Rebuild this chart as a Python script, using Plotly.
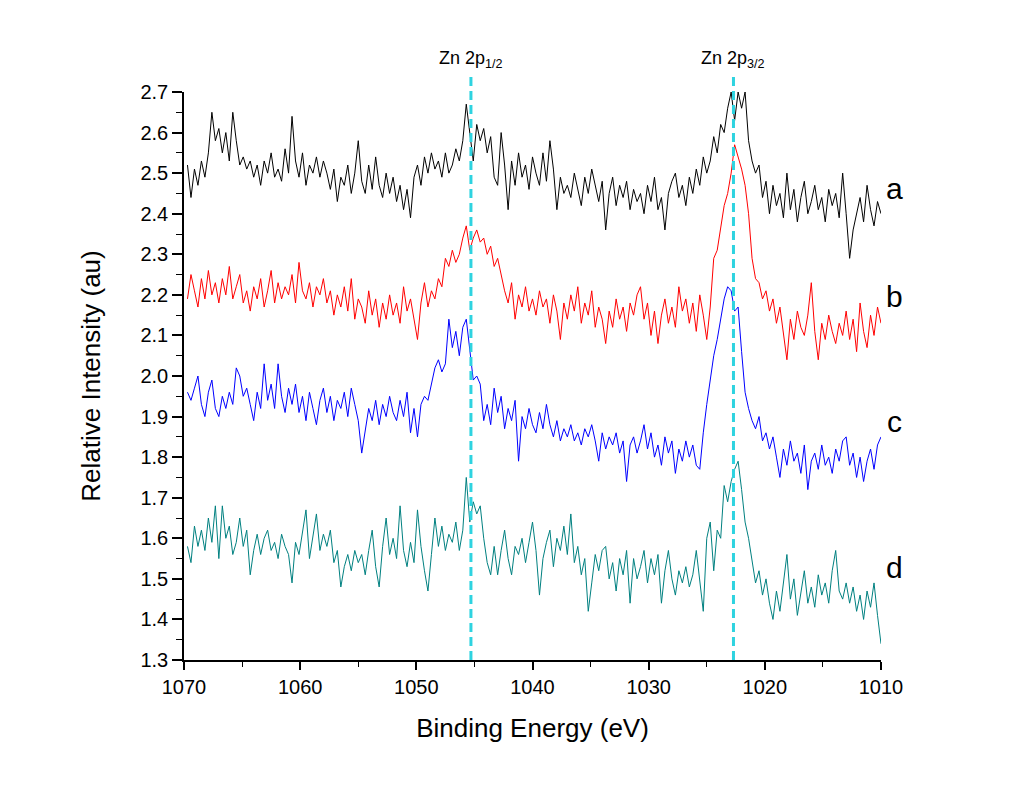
import numpy as np
import plotly.graph_objects as go

# Binding-energy sampling grid (eV), 0.3 eV steps from 1069.7 down to 1010.0
energy = np.round(1069.7 - 0.3 * np.arange(200), 1)

# a (black)
series_a = [
    2.52, 2.44, 2.51, 2.47, 2.53, 2.49, 2.55, 2.65, 2.58, 2.61,
    2.55, 2.60, 2.53, 2.65, 2.58, 2.52, 2.54, 2.51, 2.53, 2.49,
    2.52, 2.47, 2.53, 2.50, 2.55, 2.49, 2.51, 2.48, 2.56, 2.50,
    2.64, 2.53, 2.49, 2.55, 2.47, 2.52, 2.50, 2.54, 2.49, 2.53,
    2.50, 2.46, 2.51, 2.43, 2.49, 2.47, 2.52, 2.45, 2.50, 2.58,
    2.48, 2.45, 2.52, 2.46, 2.54, 2.47, 2.44, 2.50, 2.45, 2.49,
    2.43, 2.47, 2.41, 2.46, 2.39, 2.49, 2.52, 2.47, 2.54, 2.50,
    2.55, 2.51, 2.53, 2.49, 2.55, 2.50, 2.52, 2.56, 2.53, 2.58,
    2.67, 2.60, 2.53, 2.62, 2.58, 2.61, 2.55, 2.59, 2.49, 2.47,
    2.60, 2.52, 2.41, 2.53, 2.47, 2.55, 2.49, 2.52, 2.46, 2.54,
    2.50, 2.47, 2.55, 2.48, 2.58, 2.51, 2.41, 2.49, 2.45, 2.47,
    2.44, 2.50, 2.46, 2.42, 2.49, 2.45, 2.51, 2.47, 2.43, 2.48,
    2.36, 2.45, 2.49, 2.42, 2.47, 2.44, 2.48, 2.41, 2.46, 2.43,
    2.45, 2.40, 2.47, 2.43, 2.49, 2.41, 2.44, 2.36, 2.45, 2.48,
    2.50, 2.44, 2.47, 2.42, 2.49, 2.45, 2.51, 2.47, 2.54, 2.50,
    2.53, 2.59, 2.55, 2.62, 2.60, 2.66, 2.70, 2.63, 2.70, 2.66,
    2.70, 2.58, 2.53, 2.50, 2.52, 2.44, 2.48, 2.40, 2.47, 2.42,
    2.45, 2.39, 2.50, 2.41, 2.46, 2.38, 2.44, 2.48, 2.40, 2.43,
    2.47, 2.41, 2.44, 2.38, 2.46, 2.42, 2.45, 2.39, 2.50, 2.40,
    2.29, 2.36, 2.40, 2.44, 2.38, 2.47, 2.41, 2.37, 2.43, 2.40,
]

# b (red)
series_b = [
    2.19, 2.25, 2.21, 2.17, 2.24, 2.19, 2.26, 2.20, 2.23, 2.18,
    2.24, 2.20, 2.27, 2.19, 2.22, 2.25, 2.18, 2.21, 2.16, 2.22,
    2.19, 2.24, 2.17, 2.21, 2.26, 2.18, 2.23, 2.19, 2.22, 2.20,
    2.25, 2.18, 2.28, 2.21, 2.19, 2.23, 2.17, 2.22, 2.20, 2.24,
    2.18, 2.21, 2.15, 2.20, 2.17, 2.22, 2.16, 2.24, 2.14, 2.19,
    2.17, 2.13, 2.21, 2.15, 2.19, 2.12, 2.18, 2.14, 2.20, 2.15,
    2.18, 2.13, 2.22, 2.16, 2.19, 2.14, 2.09, 2.18, 2.23, 2.17,
    2.21, 2.19, 2.24, 2.22, 2.29, 2.27, 2.31, 2.28, 2.30, 2.34,
    2.37, 2.31, 2.34, 2.36, 2.33, 2.34, 2.30, 2.32, 2.27, 2.29,
    2.25, 2.21, 2.18, 2.23, 2.14, 2.20, 2.17, 2.22, 2.16, 2.19,
    2.15, 2.21, 2.17, 2.19, 2.13, 2.20, 2.16, 2.09, 2.18, 2.14,
    2.20, 2.16, 2.22, 2.13, 2.18, 2.15, 2.21, 2.12, 2.17, 2.14,
    2.08, 2.16, 2.12, 2.19, 2.14, 2.17, 2.11, 2.18, 2.15, 2.20,
    2.22, 2.14, 2.18, 2.10, 2.16, 2.08, 2.15, 2.19, 2.13, 2.17,
    2.12, 2.22, 2.16, 2.19, 2.13, 2.18, 2.11, 2.20, 2.15, 2.09,
    2.17, 2.29, 2.31, 2.37, 2.42, 2.45, 2.50, 2.57, 2.54, 2.51,
    2.47, 2.40, 2.29, 2.24, 2.23, 2.19, 2.21, 2.16, 2.19, 2.13,
    2.17, 2.11, 2.04, 2.14, 2.09, 2.16, 2.12, 2.10, 2.15, 2.23,
    2.11, 2.04, 2.13, 2.09, 2.15, 2.11, 2.08, 2.13, 2.10, 2.16,
    2.09, 2.14, 2.06, 2.18, 2.11, 2.07, 2.15, 2.10, 2.17, 2.13,
]

# c (blue)
series_c = [
    1.96, 1.94, 1.97, 2.00, 1.93, 1.90, 1.96, 1.99, 1.92, 1.90,
    1.95, 1.92, 1.96, 1.93, 2.02, 2.00, 1.95, 1.97, 1.93, 1.89,
    1.96, 1.92, 2.03, 1.94, 1.98, 1.92, 2.03, 1.95, 1.91, 1.97,
    1.93, 1.98, 1.91, 1.95, 1.89, 1.96, 1.92, 1.88, 1.94, 1.97,
    1.91, 1.95, 1.89, 1.94, 1.92, 1.96, 1.90, 1.97, 1.93, 1.89,
    1.81, 1.87, 1.92, 1.89, 1.94, 1.88, 1.93, 1.90, 1.95, 1.91,
    1.89, 1.94, 1.90, 1.96, 1.86, 1.92, 1.85, 1.93, 1.95, 1.94,
    1.98, 2.02, 2.04, 2.01, 2.03, 2.14, 2.07, 2.11, 2.05, 2.12,
    2.14, 2.06, 1.99, 2.00, 1.98, 1.89, 1.93, 1.88, 1.97, 1.91,
    1.95, 1.87, 1.92, 1.89, 1.94, 1.79, 1.90, 1.87, 1.92, 1.88,
    1.86, 1.91, 1.87, 1.93, 1.88, 1.85, 1.89, 1.84, 1.87, 1.85,
    1.88, 1.84, 1.86, 1.83, 1.87, 1.85, 1.88, 1.84, 1.79, 1.86,
    1.82, 1.85, 1.83, 1.86, 1.81, 1.84, 1.74, 1.83, 1.85, 1.81,
    1.84, 1.88, 1.82, 1.86, 1.80, 1.83, 1.78, 1.85, 1.81, 1.84,
    1.76, 1.82, 1.79, 1.84, 1.80, 1.83, 1.78, 1.77, 1.86, 1.93,
    1.99, 2.05, 2.09, 2.14, 2.19, 2.22, 2.21, 2.16, 2.17, 2.06,
    1.96, 1.92, 1.89, 1.87, 1.90, 1.84, 1.86, 1.82, 1.85, 1.80,
    1.75, 1.82, 1.78, 1.84, 1.79, 1.81, 1.76, 1.83, 1.72, 1.79,
    1.81, 1.77, 1.83, 1.78, 1.80, 1.76, 1.82, 1.79, 1.84, 1.85,
    1.78, 1.81, 1.75, 1.80, 1.74, 1.79, 1.82, 1.77, 1.83, 1.85,
]

# d (teal)
series_d = [
    1.58, 1.54, 1.63, 1.58, 1.62, 1.57, 1.65, 1.59, 1.68, 1.55,
    1.68, 1.60, 1.63, 1.56, 1.59, 1.65, 1.58, 1.62, 1.51, 1.57,
    1.61, 1.56, 1.60, 1.62, 1.57, 1.59, 1.55, 1.61, 1.58, 1.56,
    1.49, 1.59, 1.56, 1.61, 1.67, 1.55, 1.60, 1.66, 1.57, 1.61,
    1.58, 1.62, 1.54, 1.57, 1.48, 1.53, 1.56, 1.52, 1.57, 1.54,
    1.56, 1.51, 1.57, 1.62, 1.53, 1.48, 1.58, 1.65, 1.56, 1.60,
    1.55, 1.68, 1.57, 1.53, 1.59, 1.54, 1.67, 1.58, 1.52, 1.47,
    1.56, 1.65, 1.58, 1.63, 1.57, 1.61, 1.59, 1.64, 1.57, 1.62,
    1.75, 1.64, 1.69, 1.66, 1.68, 1.60, 1.54, 1.51, 1.58, 1.51,
    1.57, 1.62, 1.55, 1.51, 1.58, 1.56, 1.60, 1.54, 1.59, 1.64,
    1.57, 1.46, 1.55, 1.59, 1.62, 1.53, 1.60, 1.57, 1.63, 1.56,
    1.66, 1.54, 1.58, 1.51, 1.55, 1.42, 1.49, 1.56, 1.52, 1.57,
    1.58, 1.50, 1.54, 1.47, 1.55, 1.51, 1.57, 1.44, 1.55, 1.50,
    1.53, 1.57, 1.49, 1.55, 1.51, 1.56, 1.44, 1.52, 1.57, 1.50,
    1.46, 1.52, 1.49, 1.53, 1.48, 1.51, 1.57, 1.50, 1.42, 1.60,
    1.64, 1.52, 1.62, 1.60, 1.73, 1.69, 1.74, 1.77, 1.79, 1.72,
    1.64, 1.60, 1.55, 1.49, 1.52, 1.46, 1.50, 1.44, 1.40, 1.47,
    1.42, 1.49, 1.56, 1.45, 1.50, 1.41, 1.47, 1.52, 1.44, 1.48,
    1.43, 1.51, 1.46, 1.49, 1.44, 1.52, 1.57, 1.47, 1.45, 1.49,
    1.44, 1.48, 1.42, 1.46, 1.40, 1.47, 1.43, 1.49, 1.41, 1.34,
]

series_names = ["a", "b", "c", "d"]
series_colors = ["#000000", "#FF0000", "#0000FF", "#008080"]
label_y = [2.463, 2.195, 1.887, 1.527]

peak_energy = [1045.3, 1022.7]
peak_labels = ["Zn 2p<sub>1/2</sub>", "Zn 2p<sub>3/2</sub>"]

x_ticks = [1070, 1060, 1050, 1040, 1030, 1020, 1010]

FONT = "'Liberation Sans', Arial, sans-serif"

fig = go.Figure()
for name, ys, col in zip(series_names, [series_a, series_b, series_c, series_d], series_colors):
    fig.add_trace(go.Scatter(x=energy, y=ys, mode="lines", name=name,
                             line=dict(color=col, width=1), showlegend=False))

for pe, lab in zip(peak_energy, peak_labels):
    fig.add_shape(type="line", xref="x", yref="paper", x0=pe, x1=pe, y0=0, y1=1.028,
                  line=dict(color="#2ED3E0", width=3, dash="9px,5px"), layer="above")
    fig.add_annotation(x=pe, xref="x", y=1.058, yref="paper", text=lab, showarrow=False,
                       xanchor="center", yanchor="middle",
                       font=dict(family=FONT, size=18, color="#000000"))

for name, ly in zip(series_names, label_y):
    fig.add_annotation(x=1.02, xref="paper", y=ly, yref="y", text=name, showarrow=False,
                       xanchor="center", yanchor="middle",
                       font=dict(family=FONT, size=30, color="#000000"))

fig.update_layout(
    width=1024, height=791,
    margin=dict(l=184, r=143, t=92, b=131),
    paper_bgcolor="white", plot_bgcolor="white",
    font=dict(family=FONT, color="#000000"),
)
fig.update_xaxes(
    range=[1070, 1010], tickvals=x_ticks, ticktext=[str(t) for t in x_ticks],
    showline=True, linecolor="black", linewidth=1.5, mirror=False,
    ticks="outside", ticklen=8, tickwidth=1.5, tickcolor="black",
    minor=dict(dtick=5, ticks="outside", ticklen=5, tickwidth=1.2, tickcolor="black", showgrid=False),
    showgrid=False, zeroline=False,
    tickfont=dict(family=FONT, size=20, color="black"),
    title=dict(text="Binding Energy (eV)", font=dict(family=FONT, size=26, color="black"), standoff=22),
)
fig.update_yaxes(
    range=[1.3, 2.7], dtick=0.1, tick0=1.3, tickformat=".1f",
    showline=True, linecolor="black", linewidth=1.5, mirror=False,
    ticks="outside", ticklen=10, tickwidth=1.5, tickcolor="black",
    minor=dict(dtick=0.05, ticks="outside", ticklen=6, tickwidth=1.2, tickcolor="black", showgrid=False),
    showgrid=False, zeroline=False,
    tickfont=dict(family=FONT, size=20, color="black"),
    title=dict(text="Relative Intensity (au)", font=dict(family=FONT, size=26, color="black"), standoff=32),
)

fig.write_html("out.html")
